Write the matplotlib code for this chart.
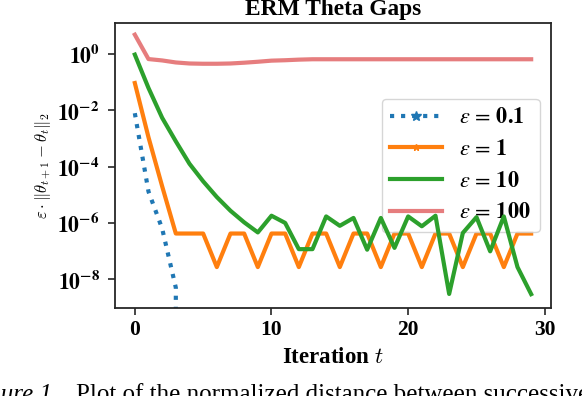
import numpy as np
import matplotlib
matplotlib.use('Agg')
import matplotlib.pyplot as plt
from matplotlib.ticker import FuncFormatter, NullLocator
from matplotlib.font_manager import FontProperties

plt.rcParams['font.family'] = 'serif'
plt.rcParams['font.serif'] = ['Liberation Serif', 'DejaVu Serif']
plt.rcParams['mathtext.fontset'] = 'stix'

# iterations and the normalized gap for each epsilon
t = np.arange(30)
gap_eps01 = [7.9e-3, 1.3e-5, 6.3e-7, 5.0e-9, 0, 0, 0, 0, 0, 0,
             0, 0, 0, 0, 0, 0, 0, 0, 0, 0,
             0, 0, 0, 0, 0, 0, 0, 0, 0, 0]
gap_eps1 = [9.3e-2, 1.1e-3, 2.0e-5, 4.2e-7, 4.2e-7, 4.2e-7, 2.7e-8, 4.2e-7, 4.2e-7, 2.7e-8,
            4.2e-7, 4.2e-7, 2.7e-8, 4.2e-7, 4.2e-7, 2.7e-8, 4.2e-7, 4.2e-7, 2.7e-8, 4.2e-7,
            4.2e-7, 2.7e-8, 4.2e-7, 4.2e-7, 2.7e-8, 4.2e-7, 4.2e-7, 2.7e-8, 4.2e-7, 4.2e-7]
gap_eps10 = [9.5e-1, 6.2e-2, 5.4e-3, 7.9e-4, 1.26e-4, 3.0e-5, 8.3e-6, 2.7e-6, 1.05e-6, 4.6e-7,
             1.8e-6, 1.0e-6, 1.17e-7, 1.17e-7, 1.7e-6, 7.9e-7, 1.5e-6, 1.12e-7, 1.5e-6, 1.3e-7,
             1.7e-6, 7.6e-7, 1.8e-6, 3.0e-9, 4.4e-7, 1.6e-6, 9.8e-8, 1.7e-6, 2.7e-8, 2.95e-9]
gap_eps100 = [4.85, 0.66, 0.59, 0.50, 0.46, 0.45, 0.45, 0.46, 0.49, 0.53,
              0.58, 0.60, 0.63, 0.65, 0.65, 0.65, 0.65, 0.65, 0.65, 0.65,
              0.65, 0.65, 0.65, 0.65, 0.65, 0.65, 0.65, 0.65, 0.65, 0.65]
labels = [r'$\varepsilon\,=\,\mathbf{0.1}$', r'$\varepsilon\,=\,\mathbf{1}$',
          r'$\varepsilon\,=\,\mathbf{10}$', r'$\varepsilon\,=\,\mathbf{100}$']
yticks = [1e0, 1e-2, 1e-4, 1e-6, 1e-8]
xticks = [0, 10, 20, 30]

fig = plt.figure(figsize=(5.82, 3.96), dpi=100)
ax = fig.add_axes([0.1976, 0.2222, 0.7491, 0.7197])

ax.plot(t, gap_eps01, color='tab:blue', ls=':', lw=3, marker='*', ms=7, markevery=[], label=labels[0])
ax.plot(t, gap_eps1, color='tab:orange', lw=3, marker='*', ms=5, markevery=[], label=labels[1])
ax.plot(t, gap_eps10, color='tab:green', lw=3, zorder=6, label=labels[2])
ax.plot(t, gap_eps100, color='tab:red', lw=3, alpha=0.6, label=labels[3])

ax.set_yscale('log')
ax.set_ylim(9.5e-10, 12.6)
ax.set_xlim(-1.45, 30.45)
ax.set_yticks(yticks)
ax.yaxis.set_minor_locator(NullLocator())
ax.yaxis.set_major_formatter(FuncFormatter(lambda v, p: r'$\mathbf{10^{%d}}$' % int(round(np.log10(v)))))
ax.set_xticks(xticks)
for lab in ax.get_xticklabels():
    lab.set_fontweight('bold')
ax.tick_params(labelsize=15.5, length=5, width=1.2, colors='0.15', labelcolor='black')
ax.tick_params(axis='y', pad=6)
for sp in ax.spines.values():
    sp.set_color('0.15')
    sp.set_linewidth(1.3)

ax.set_title('ERM Theta Gaps', fontsize=16.8, fontweight='bold', pad=6)
ax.set_xlabel(r'Iteration $t$', fontsize=16.5, fontweight='bold', labelpad=5, math_fontfamily='cm')
ax.set_ylabel(r'$\varepsilon \cdot \|\theta_{t+1} - \theta_t\|_2$', fontsize=12, math_fontfamily='cm')
ax.yaxis.set_label_coords(-0.142, 0.5)

ax.legend(loc='center right', prop=FontProperties(size=16, math_fontfamily='stix'),
          handlelength=2.3, handletextpad=0.8, labelspacing=0.5, borderaxespad=0.5)

# cropped figure caption below the chart
fig.text(58 / 582, -0.012, 'Figure 1.', fontsize=18, style='italic', ha='right', va='baseline')
fig.text(76 / 582, -0.012, 'Plot of the normalized distance between successive', fontsize=18,
         ha='left', va='baseline')

fig.savefig('out.png', dpi=100)
